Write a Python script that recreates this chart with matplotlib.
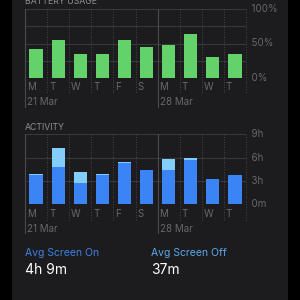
import matplotlib
matplotlib.use("Agg")
import matplotlib.pyplot as plt
from matplotlib.patches import Rectangle
import matplotlib.transforms as mtransforms

plt.rcParams['font.family'] = ['Inter', 'DejaVu Sans']

days = ["M", "T", "W", "T", "F", "S", "M", "T", "W", "T"]
week_labels = ["21 Mar", "28 Mar"]
week_starts = [0, 6]
battery = [41.7, 55.8, 34.9, 34.0, 54.8, 44.2, 47.1, 64.5, 30.5, 34.0]
screen_on = [3.77, 4.82, 2.80, 3.72, 5.34, 4.38, 4.40, 5.74, 3.20, 3.72]
screen_off = [0.17, 2.36, 1.36, 0.18, 0.13, 0.04, 1.47, 0.26, 0.08, 0.09]
battery_ticks = [0, 50, 100]
battery_tick_labels = ["0%", "50%", "100%"]
activity_ticks = [0, 3, 6, 9]
activity_tick_labels = ["0m", "3h", "6h", "9h"]
summary_titles = ["Avg Screen On", "Avg Screen Off"]
summary_values = ["4h 9m", "37m"]

BG = "#000000"
CARD = "#1c1c1e"
GRID = "#38383a"
VGRID = "#4a4a4d"
TICK = "#68686d"
TITLE = "#8e8e93"
GREEN = "#64d26a"
BLUE = "#3a84f6"
LIGHT = "#82cdfb"

fig = plt.figure(figsize=(3, 3), dpi=100, facecolor=BG)
fig.patches.append(Rectangle((12/300, 0), 276/300, 1, transform=fig.transFigure,
                             facecolor=CARD, edgecolor='none', zorder=-5))

def px(x, y):
    return x / 300, 1 - y / 300

def setup(ax, ymax, ticks, labels, title, title_y, label_y, date_y, line_low):
    ax.set_facecolor(CARD)
    ax.patch.set_alpha(0)
    ax.set_xlim(0, 10)
    ax.set_ylim(0, ymax)
    for s in ax.spines.values():
        s.set_visible(False)
    ax.set_xticks([])
    ax.set_yticks([])
    for t in ticks:
        ax.axhline(t, color=GRID, lw=0.8, zorder=1)
    if ymax == 100:
        for i in range(len(ticks) - 1):
            ax.axhline((ticks[i] + ticks[i+1]) / 2, color=GRID, lw=0.8, zorder=1)
    tr = mtransforms.blended_transform_factory(ax.transData, ax.transAxes)
    for i in range(11):
        if i in week_starts:
            ax.plot([i, i], [1, line_low[1]], transform=tr, color=VGRID, lw=0.8,
                    clip_on=False, zorder=1)
        else:
            ax.plot([i, i], [1, line_low[0]], transform=tr, color=VGRID, lw=0.6,
                    ls=(0, (1.2, 1.8)), clip_on=False, zorder=1)
    for t, lab in zip(ticks, labels):
        ax.text(10, t, "  " + lab, transform=ax.transData, ha='left', va='center',
                color=TICK, fontsize=7, clip_on=False)
    for i, d in enumerate(days):
        ax.text(i + 0.09, label_y, d, transform=tr, ha='left', va='center',
                color=TICK, fontsize=7)
    for ws, wl in zip(week_starts, week_labels):
        ax.text(ws + 0.09, date_y, wl, transform=tr, ha='left', va='center',
                color=TICK, fontsize=7)
    fig.text(*px(25, title_y), title, ha='left', va='baseline', color=TITLE, fontsize=6.3)

xs = [i + 0.5 for i in range(len(days))]

# Battery chart
h1 = 68.4
ax1 = fig.add_axes([25/300, 1 - 77.7/300, 221/300, h1/300])
setup(ax1, 100, battery_ticks, battery_tick_labels, "BATTERY USAGE", 4.5,
      -9.6/h1, -24.3/h1, (-15.5/h1, -29.5/h1))
ax1.bar(xs, battery, width=0.6, color=GREEN, zorder=3)

# Activity chart
h2 = 70
ax2 = fig.add_axes([25/300, 1 - 204.3/300, 221/300, h2/300])
setup(ax2, 9, activity_ticks, activity_tick_labels, "ACTIVITY", 129.5,
      -9.7/h2, -24.7/h2, (-15.5/h2, -29/h2))
ax2.bar(xs, screen_on, width=0.6, color=BLUE, zorder=3)
ax2.bar(xs, screen_off, bottom=screen_on, width=0.6, color=LIGHT, zorder=3)

# Summary
fig.text(*px(25, 252.7), summary_titles[0], ha='left', va='center', color="#3d80e6", fontsize=7.5)
fig.text(*px(151, 252.7), summary_titles[1], ha='left', va='center', color="#5ba8ea", fontsize=7.5)
fig.text(*px(25, 269.5), summary_values[0], ha='left', va='center', color="white", fontsize=10)
fig.text(*px(151, 269.5), summary_values[1], ha='left', va='center', color="white", fontsize=10)

fig.savefig("out.png", dpi=100, facecolor=BG)
